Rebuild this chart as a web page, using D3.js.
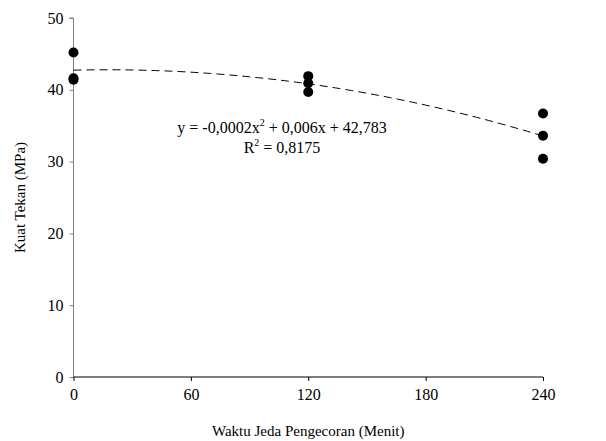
<!DOCTYPE html>
<html lang="en">
<head>
<meta charset="UTF-8">
<title>Kuat Tekan vs Waktu Jeda Pengecoran</title>
<script src="https://d3js.org/d3.v7.min.js"></script>
<style>
  body { margin: 0; background: #fff; }
</style>
</head>
<body>
<div id="chart"></div>
<script>
// data
const waktu = [0, 0, 0, 120, 120, 120, 240, 240, 240];
const kuatTekan = [45.2, 41.6, 41.4, 41.9, 40.9, 39.7, 36.7, 33.6, 30.4];
const xTicks = [0, 60, 120, 180, 240];
const yTicks = [0, 10, 20, 30, 40, 50];
const eqLabel = ["y = -0,0002x", "2", " + 0,006x + 42,783"];
const r2Label = ["R", "2", " = 0,8175"];

const FONT = "'Liberation Serif', 'Times New Roman', serif";
const width = 606, height = 441;
const margin = { top: 18, right: 63, bottom: 64, left: 73.5 };

const x = d3.scaleLinear().domain([0, 240]).range([margin.left, width - margin.right]);
const y = d3.scaleLinear().domain([0, 50]).range([height - margin.bottom, margin.top]);

// quadratic least squares fit (like the excel trendline)
function polyFit(xs, ys) {
  const n = xs.length;
  const s = k => d3.sum(xs, v => Math.pow(v, k));
  const t = k => d3.sum(xs, (v, i) => Math.pow(v, k) * ys[i]);
  const A = [[n, s(1), s(2)], [s(1), s(2), s(3)], [s(2), s(3), s(4)]];
  const B = [t(0), t(1), t(2)];
  // gaussian elimination
  for (let i = 0; i < 3; i++) {
    for (let j = i + 1; j < 3; j++) {
      const f = A[j][i] / A[i][i];
      for (let k = i; k < 3; k++) A[j][k] -= f * A[i][k];
      B[j] -= f * B[i];
    }
  }
  const c = [0, 0, 0];
  for (let i = 2; i >= 0; i--) {
    let v = B[i];
    for (let k = i + 1; k < 3; k++) v -= A[i][k] * c[k];
    c[i] = v / A[i][i];
  }
  return c;
}
const coef = polyFit(waktu, kuatTekan);
const trend = d3.range(0, 241, 2).map(v => [v, coef[0] + coef[1] * v + coef[2] * v * v]);

const svg = d3.select("#chart").append("svg")
  .attr("width", width)
  .attr("height", height);

// y axis (grey)
const yAxis = svg.append("g")
  .attr("transform", `translate(${margin.left},0)`)
  .call(d3.axisLeft(y).tickValues(yTicks).tickSize(4).tickPadding(6));
yAxis.select(".domain").attr("stroke", "#808080").attr("d", `M-4,${y(50)}H0V${y(0)}`);
yAxis.selectAll(".tick line").attr("stroke", "#808080");
yAxis.selectAll("text").style("font-size", "16px").attr("fill", "#000").style("font-family", FONT);

// x axis (black)
const xAxis = svg.append("g")
  .attr("transform", `translate(0,${y(0)})`)
  .call(d3.axisBottom(x).tickValues(xTicks).tickSize(4).tickPadding(8));
xAxis.select(".domain").attr("stroke", "#000").attr("d", `M${x(0)},0H${x(240)}`);
xAxis.selectAll("text").style("font-size", "16px").attr("fill", "#000").style("font-family", FONT);

// trendline
svg.append("path")
  .datum(trend)
  .attr("fill", "none")
  .attr("stroke", "#000")
  .attr("stroke-width", 1)
  .attr("stroke-dasharray", "8,5")
  .attr("d", d3.line().x(d => x(d[0])).y(d => y(d[1])));

// points
svg.append("g")
  .selectAll("circle")
  .data(waktu.map((v, i) => [v, kuatTekan[i]]))
  .join("circle")
  .attr("cx", d => x(d[0]))
  .attr("cy", d => y(d[1]))
  .attr("r", 5)
  .attr("fill", "#000");

// equation text
function supText(lines, yy) {
  const t = svg.append("text")
    .attr("x", 282)
    .attr("y", yy)
    .attr("text-anchor", "middle")
    .style("font-family", FONT)
    .style("font-size", "16px");
  t.append("tspan").text(lines[0]);
  t.append("tspan").attr("dy", -7).style("font-size", "10px").text(lines[1]);
  t.append("tspan").attr("dy", 7).text(lines[2]);
}
supText(eqLabel, 133);
supText(r2Label, 153);

// axis titles
svg.append("text")
  .attr("x", x(120))
  .attr("y", 436)
  .attr("text-anchor", "middle")
  .style("font-family", FONT)
  .style("font-size", "15px")
  .text("Waktu Jeda Pengecoran (Menit)");

svg.append("text")
  .attr("transform", `translate(25,${(y(0) + y(50)) / 2}) rotate(-90)`)
  .attr("text-anchor", "middle")
  .style("font-family", FONT)
  .style("font-size", "15px")
  .text("Kuat Tekan (MPa)");
</script>
</body>
</html>
